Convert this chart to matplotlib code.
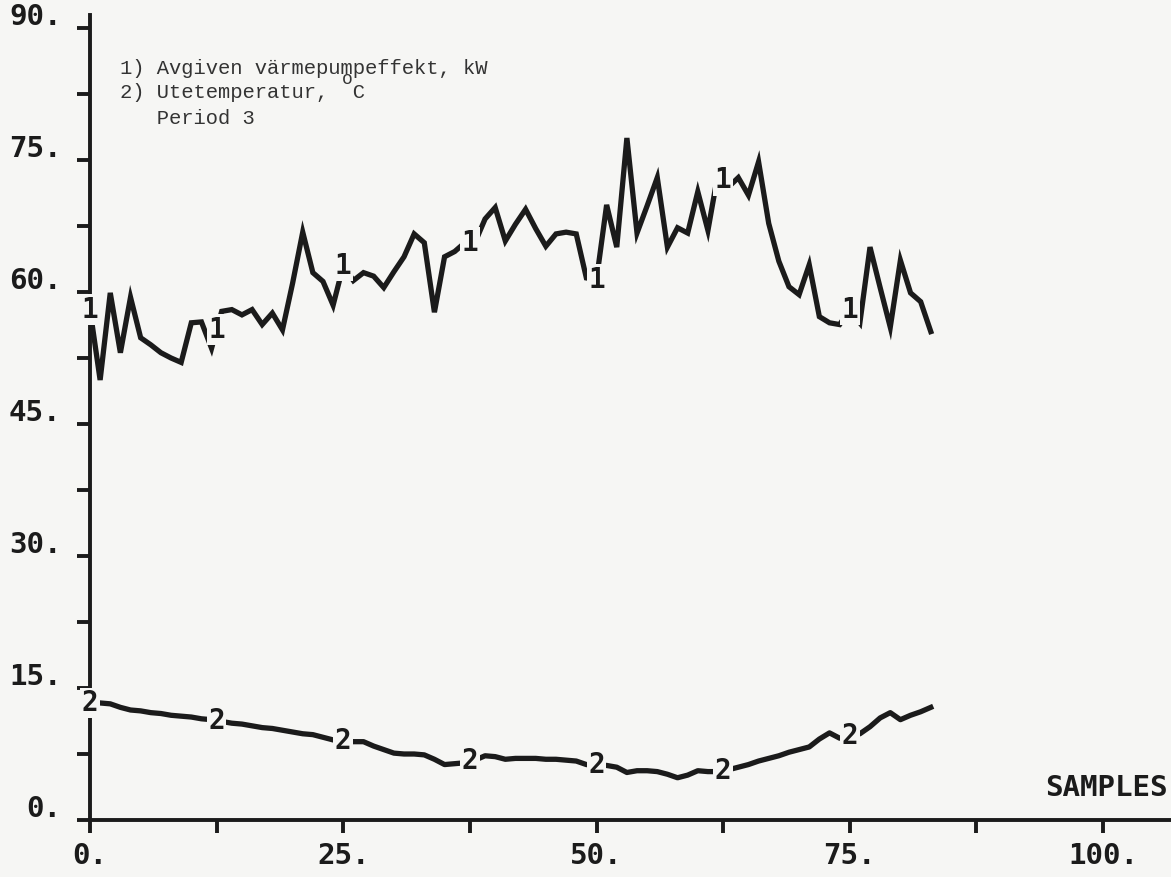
import numpy as np
import matplotlib
matplotlib.use("Agg")
import matplotlib.pyplot as plt
from matplotlib.transforms import ScaledTranslation

# samples 0..83
samples = np.arange(84)

# 1) heat pump output, kW
effekt = [58.0, 50.0, 59.9, 53.1, 59.4, 54.8, 54.0, 53.1, 52.5, 52.0,
          56.5, 56.6, 53.6, 57.8, 58.0, 57.4, 58.0, 56.3, 57.6, 55.7,
          61.0, 66.8, 62.2, 61.2, 58.5, 63.0, 61.3, 62.2, 61.8, 60.5,
          62.3, 64.0, 66.6, 65.6, 57.7, 64.0, 64.6, 65.6, 65.6, 68.3,
          69.6, 65.8, 67.7, 69.4, 67.2, 65.2, 66.6, 66.8, 66.6, 61.6,
          61.4, 69.9, 65.1, 77.5, 66.7, 69.8, 73.0, 65.1, 67.3, 66.7,
          71.4, 67.0, 73.5, 71.9, 73.0, 71.0, 74.8, 67.8, 63.5, 60.6,
          59.7, 63.1, 57.2, 56.5, 56.3, 58.0, 56.5, 65.1, 60.5, 56.0,
          63.6, 59.9, 58.9, 55.5]

# 2) outdoor temperature, deg C
temp = [13.3, 13.3, 13.2, 12.8, 12.5, 12.4, 12.2, 12.1, 11.9, 11.8,
        11.7, 11.5, 11.4, 11.2, 11.0, 10.9, 10.7, 10.5, 10.4, 10.2,
        10.0, 9.8, 9.7, 9.4, 9.1, 9.0, 8.9, 8.9, 8.4, 8.0,
        7.6, 7.5, 7.5, 7.4, 6.9, 6.3, 6.4, 6.5, 6.8, 7.3,
        7.2, 6.9, 7.0, 7.0, 7.0, 6.9, 6.9, 6.8, 6.7, 6.3,
        6.2, 6.2, 6.0, 5.4, 5.6, 5.6, 5.5, 5.2, 4.8, 5.1,
        5.6, 5.5, 5.5, 5.7, 6.0, 6.3, 6.7, 7.0, 7.3, 7.7,
        8.0, 8.3, 9.2, 9.9, 9.3, 9.6, 9.8, 10.6, 11.6, 12.2,
        11.4, 11.9, 12.3, 12.8]

x_ticks = np.arange(0, 100.1, 12.5)
x_labels = ["0.", "", "25.", "", "50.", "", "75.", "", "100."]
y_ticks = np.arange(0, 90.1, 7.5)
y_labels = ["0.", "", "15.", "", "30.", "", "45.", "", "60.", "", "75.", "", "90."]

legend_lines = ["1) Avgiven värmepumpeffekt, kW",
                "2) Utetemperatur,  C",
                "   Period 3"]

paper = "#f6f6f4"
ink = "#1b1b1b"
plotter = "DejaVu Sans Mono"
typewriter = "Liberation Mono"

fig = plt.figure(figsize=(11.71, 8.77), dpi=100, facecolor=paper)
W, H = 1171, 877
ax = fig.add_axes([90 / W, (H - 820) / H, (W - 90) / W, (820 - 15) / H])
ax.set_facecolor(paper)
ax.set_xlim(0, (W - 90) / 10.13)
ax.set_ylim(0, 805 / 8.8)

for side in ("top", "right"):
    ax.spines[side].set_visible(False)
for side in ("left", "bottom"):
    ax.spines[side].set_linewidth(2.8)
    ax.spines[side].set_color(ink)

ax.set_xticks(x_ticks)
ax.set_xticklabels(x_labels)
ax.set_yticks(y_ticks)
ax.set_yticklabels(y_labels)
ax.tick_params(direction="out", length=9.5, width=2.8, color=ink,
               labelcolor=ink)
ax.tick_params(axis="x", pad=6)
ax.tick_params(axis="y", pad=11)
for lab in ax.get_xticklabels() + ax.get_yticklabels():
    lab.set_fontfamily(plotter)
    lab.set_fontweight("bold")
    lab.set_fontsize(21)
# y labels sit a little above their ticks
shift = ScaledTranslation(0, 14 / 100, fig.dpi_scale_trans)
for lab in ax.get_yticklabels():
    lab.set_transform(lab.get_transform() + shift)

ax.plot(samples, effekt, color=ink, lw=3.8, solid_joinstyle="miter",
        clip_on=False, zorder=3)
ax.plot(samples, temp, color=ink, lw=3.8, solid_joinstyle="round",
        clip_on=False, zorder=3)

# curve numbers every 12.5 samples
for tag, series in (("1", effekt), ("2", temp)):
    for xm in np.arange(0, 80, 12.5):
        ym = np.interp(xm, samples, series)
        ax.text(xm, ym, tag, ha="center", va="center", fontsize=20,
                fontfamily=plotter, fontweight="bold", color=ink, zorder=4,
                clip_on=False,
                bbox=dict(boxstyle="square,pad=0.05", fc=paper, ec="none"))

fig.text(1168 / W, 1 - 788 / H, "SAMPLES", ha="right", va="center",
         fontsize=21, fontfamily=plotter, fontweight="bold", color=ink)

for i, line in enumerate(legend_lines):
    fig.text(120 / W, 1 - (68 + 25 * i) / H, line, ha="left", va="center",
             fontsize=14.8, fontfamily=typewriter, color="#333333")
# degree sign typed as a raised "o"
fig.text(347 / W, 1 - 80 / H, "o", ha="center", va="center",
         fontsize=13, fontfamily=typewriter, color="#333333")

fig.savefig("out.png", dpi=100, facecolor=paper)
